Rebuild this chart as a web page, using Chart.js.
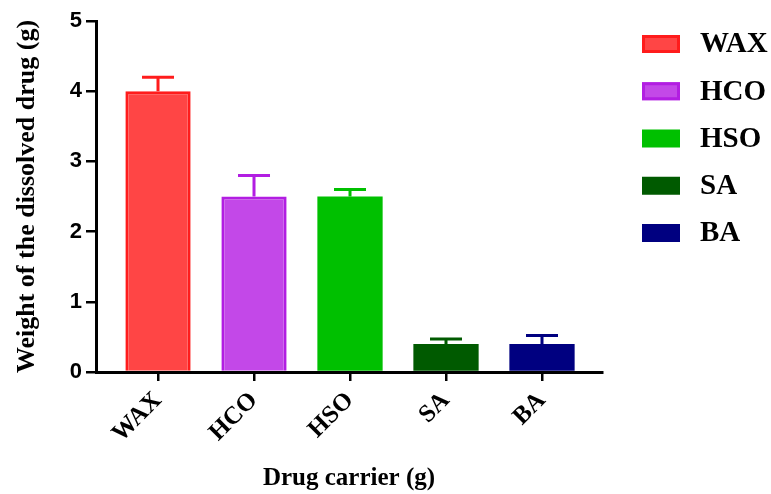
<!DOCTYPE html>
<html>
<head>
<meta charset="utf-8">
<script src="https://cdn.jsdelivr.net/npm/chart.js@4"></script>
<style>
  html, body { margin: 0; padding: 0; background: #fff; }
  #wrap { width: 771px; height: 494px; }
</style>
</head>
<body>
<div id="wrap"><canvas id="myChart" width="771" height="494"></canvas></div>
<script>
// data
const carriers = ['WAX', 'HCO', 'HSO', 'SA', 'BA'];
const weights = [4.0, 2.5, 2.5, 0.4, 0.4];
const errors = [0.2, 0.3, 0.1, 0.07, 0.12];
const yTicks = [0, 1, 2, 3, 4, 5];

const fillColors = ['#ff4545', '#c348e8', '#00c000', '#005a00', '#000080'];
const edgeColors = ['#ff1c1c', '#b21ee2', '#00c000', '#005a00', '#000080'];
const edgeWidths = [3, 3, 0, 0, 0];

const serif = "'Liberation Serif', 'Times New Roman', serif";
const sans = "'Liberation Sans', Arial, sans-serif";

// top-only error bars, drawn through the scales
const errorBars = {
  id: 'errorBars',
  afterDatasetsDraw(chart) {
    const ctx = chart.ctx;
    const xs = chart.scales.x;
    const ys = chart.scales.y;
    ctx.save();
    ctx.lineWidth = 3;
    weights.forEach((v, i) => {
      const x = xs.getPixelForValue(i);
      const yBar = ys.getPixelForValue(v);
      const yTop = ys.getPixelForValue(v + errors[i]);
      ctx.strokeStyle = edgeColors[i];
      ctx.beginPath();
      ctx.moveTo(x, yBar);
      ctx.lineTo(x, yTop);
      ctx.moveTo(x - 16, yTop);
      ctx.lineTo(x + 16, yTop);
      ctx.stroke();
    });
    ctx.restore();
  }
};

// legend on the right, one entry per carrier
const sideLegend = {
  id: 'sideLegend',
  afterDraw(chart) {
    const ctx = chart.ctx;
    ctx.save();
    ctx.font = "bold 29px " + serif;
    ctx.textBaseline = 'middle';
    ctx.textAlign = 'left';
    carriers.forEach((name, i) => {
      const cy = 44 + i * 47.25;
      ctx.fillStyle = fillColors[i];
      ctx.fillRect(642, cy - 9, 38, 18);
      if (edgeWidths[i]) {
        ctx.strokeStyle = edgeColors[i];
        ctx.lineWidth = edgeWidths[i];
        ctx.strokeRect(643.5, cy - 7.5, 35, 15);
      }
      ctx.fillStyle = '#000';
      ctx.fillText(name, 700, cy + 1);
    });
    ctx.restore();
  }
};

const config = {
  type: 'bar',
  data: {
    datasets: [{
      data: weights.map((w, i) => ({ x: i, y: w })),
      backgroundColor: fillColors,
      borderColor: edgeColors,
      borderWidth: edgeWidths,
      borderSkipped: 'start',
      barPercentage: 0.68,
      categoryPercentage: 1
    }]
  },
  options: {
    responsive: false,
    animation: false,
    layout: { padding: { top: 21, right: 169, left: 0, bottom: 0 } },
    plugins: {
      legend: { display: false },
      tooltip: { enabled: false }
    },
    scales: {
      x: {
        type: 'linear',
        offset: false,
        min: -0.646,
        max: 4.625,
        afterBuildTicks: function(scale) {
          scale.ticks = carriers.map((c, i) => ({ value: i }));
        },
        afterFit: function(scale) { scale.height = 122; },
        grid: { offset: false, drawOnChartArea: false, drawTicks: true, tickLength: 9, color: '#000', lineWidth: 2.5 },
        border: { display: true, color: '#000', width: 3 },
        ticks: {
          autoSkip: false,
          minRotation: 45,
          maxRotation: 45,
          padding: 5,
          color: '#000',
          font: { family: serif, size: 25, weight: 'bold' },
          callback: function(value) { return carriers[value]; }
        },
        title: {
          display: true,
          text: 'Drug carrier (g)',
          color: '#000',
          font: { family: serif, size: 25, weight: 'bold' },
          padding: { top: 0, bottom: 0 }
        }
      },
      y: {
        min: 0,
        max: 5,
        afterBuildTicks: function(scale) {
          scale.ticks = yTicks.map(v => ({ value: v }));
        },
        afterFit: function(scale) { scale.width = 96; },
        grid: { drawOnChartArea: false, drawTicks: true, tickLength: 10, color: '#000', lineWidth: 2.5 },
        border: { display: true, color: '#000', width: 3 },
        ticks: {
          padding: 4,
          color: '#000',
          font: { family: sans, size: 22, weight: 'bold' }
        },
        title: {
          display: true,
          text: 'Weight of the dissolved drug (g)',
          color: '#000',
          font: { family: serif, size: 26, weight: 'bold' },
          padding: { top: 12, bottom: 0 }
        }
      }
    }
  },
  plugins: [errorBars, sideLegend]
};

const myChart = new Chart(document.getElementById('myChart'), config);
</script>
</body>
</html>
